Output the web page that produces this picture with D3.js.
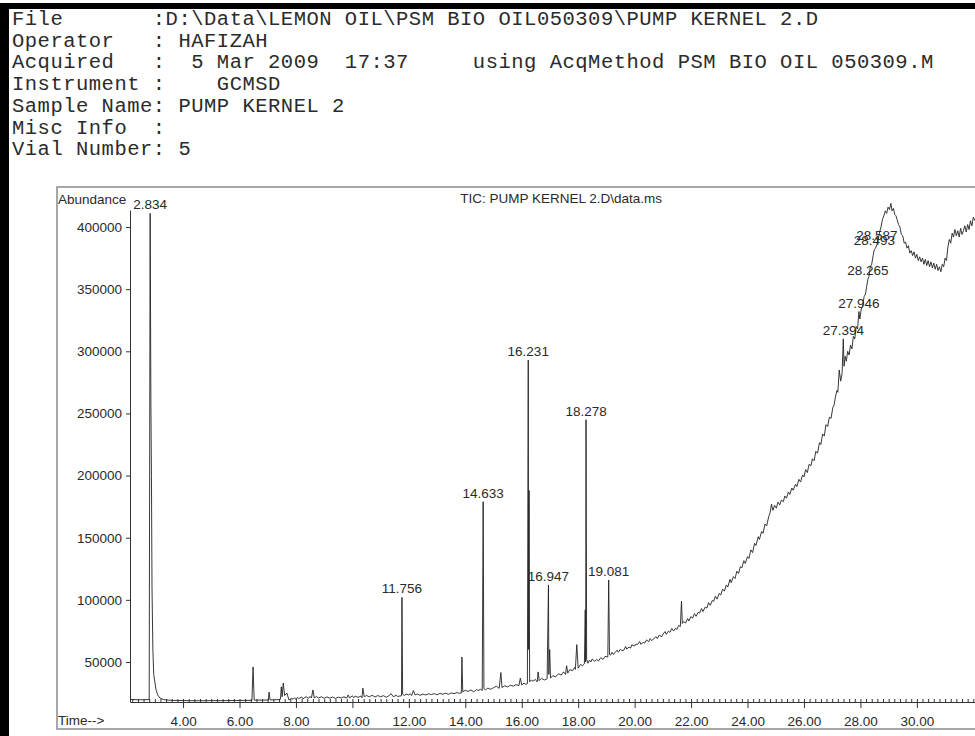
<!DOCTYPE html>
<html>
<head>
<meta charset="utf-8">
<script src="https://cdn.jsdelivr.net/npm/d3@7"></script>
<style>
  html, body { margin: 0; padding: 0; background: #fff; }
  svg { display: block; }
  .hdr { font-family: "Liberation Mono", "Courier New", monospace; font-size: 20.5px; letter-spacing: 0.5px; fill: #2b2b2b; white-space: pre; }
  .lbl { font-family: "Liberation Sans", Arial, sans-serif; font-size: 13.5px; fill: #2a2a2a; }
  .axis text { font-family: "Liberation Sans", Arial, sans-serif; font-size: 13.5px; fill: #2a2a2a; }
  .axis path, .axis line { stroke: #333; }
</style>
</head>
<body>
<svg id="chart"></svg>
<script>
// header block of the printout
const headerLines = [
  "File       :D:\\Data\\LEMON OIL\\PSM BIO OIL050309\\PUMP KERNEL 2.D",
  "Operator   : HAFIZAH",
  "Acquired   :  5 Mar 2009  17:37     using AcqMethod PSM BIO OIL 050309.M",
  "Instrument :    GCMSD",
  "Sample Name: PUMP KERNEL 2",
  "Misc Info  :",
  "Vial Number: 5"
];

const title = "TIC: PUMP KERNEL 2.D\\data.ms";

// ticks
const yTicks = [50000, 100000, 150000, 200000, 250000, 300000, 350000, 400000];
const xTicks = [4, 6, 8, 10, 12, 14, 16, 18, 20, 22, 24, 26, 28, 30];

// labelled peaks: retention time and apex abundance
const peakTimes = [2.834, 11.756, 14.633, 16.231, 16.947, 18.278, 19.081, 27.394, 27.946, 28.265, 28.493, 28.587];
const peakTops  = [411000, 102000, 179000, 293000, 112000, 245000, 116000, 310000, 332000, 358000, 382000, 386000];

// total ion current trace: [time (min), abundance]
const tic = [
  [2.12, 19800], [2.50, 19600], [2.80, 19700], [2.834, 411000], [2.86, 260000], [2.88, 200000],
  [2.90, 110000], [2.93, 60000], [2.96, 40000], [3.00, 34000], [3.04, 28000], [3.10, 23500],
  [3.18, 21000], [3.30, 19800], [3.50, 19200], [3.80, 19000], [4.20, 18900], [4.60, 18800],
  [5.00, 18900], [5.40, 18900], [5.80, 19000], [6.20, 19100], [6.44, 19100], [6.48, 46000],
  [6.52, 19300], [6.80, 19300], [7.02, 19400], [7.05, 25800], [7.08, 19500], [7.30, 19600],
  [7.45, 20000], [7.48, 30000], [7.51, 22000], [7.55, 33000], [7.60, 23000], [7.68, 25000],
  [7.75, 19500], [7.85, 20800], [7.90, 20000], [7.95, 21200], [8.00, 19800], [8.05, 21500],
  [8.10, 20600], [8.20, 21800], [8.25, 20300], [8.35, 22000], [8.45, 20800], [8.50, 22300],
  [8.55, 21000], [8.60, 27500], [8.65, 21000], [8.72, 22200], [8.80, 21000], [8.90, 22000],
  [9.00, 20800], [9.10, 21900], [9.20, 20900], [9.30, 21800], [9.40, 20700], [9.50, 21700],
  [9.60, 21000], [9.70, 22000], [9.80, 21000], [9.85, 23500], [9.90, 21000], [10.00, 22800],
  [10.05, 21200], [10.10, 22600], [10.20, 21500], [10.30, 22600], [10.34, 21200], [10.37, 29000],
  [10.42, 22000], [10.50, 23000], [10.60, 22000], [10.70, 23200], [10.80, 21800], [10.90, 23000],
  [11.00, 22000], [11.10, 22900], [11.20, 21600], [11.30, 23000], [11.37, 24500], [11.45, 22000],
  [11.55, 23200], [11.60, 22300], [11.74, 22800], [11.756, 102000], [11.78, 24000], [11.85, 23000],
  [11.90, 24300], [12.00, 23400], [12.05, 24500], [12.10, 23000], [12.16, 27000], [12.22, 23500],
  [12.30, 24200], [12.40, 23200], [12.50, 24100], [12.60, 23500], [12.70, 24400], [12.80, 23800],
  [12.90, 24600], [13.00, 23600], [13.10, 24700], [13.20, 24000], [13.30, 24900], [13.40, 24000],
  [13.50, 25100], [13.60, 24500], [13.70, 25400], [13.80, 24800], [13.86, 25000], [13.88, 54000],
  [13.91, 26000], [14.00, 27200], [14.10, 26300], [14.20, 27500], [14.30, 26000], [14.40, 27800],
  [14.45, 27000], [14.55, 28200], [14.60, 27000], [14.633, 179000], [14.66, 28500], [14.72, 27600],
  [14.80, 29000], [14.90, 28000], [15.00, 29300], [15.10, 30500], [15.20, 28800], [15.26, 41500],
  [15.30, 29500], [15.40, 30800], [15.50, 30000], [15.60, 31300], [15.70, 30500], [15.80, 31800],
  [15.90, 31000], [15.95, 37000], [16.00, 31500], [16.08, 33000], [16.15, 32000], [16.20, 32500],
  [16.231, 293000], [16.245, 60000], [16.26, 188000], [16.28, 34000], [16.34, 35500], [16.40, 34500],
  [16.48, 36000], [16.55, 34000], [16.58, 42000], [16.62, 35000], [16.70, 36800], [16.80, 35500],
  [16.90, 36500], [16.947, 112000], [16.96, 40000], [16.99, 60000], [17.02, 37000], [17.10, 39000],
  [17.20, 38000], [17.30, 40500], [17.40, 39500], [17.48, 42000], [17.55, 40000], [17.59, 47000],
  [17.63, 41000], [17.70, 43800], [17.80, 43000], [17.87, 45500], [17.90, 44000], [17.95, 64000],
  [18.00, 45000], [18.08, 48000], [18.15, 47000], [18.22, 48500], [18.25, 92000], [18.265, 50000],
  [18.278, 245000], [18.30, 52000], [18.35, 49000], [18.40, 51500], [18.45, 50000], [18.50, 52500],
  [18.58, 50500], [18.66, 52000], [18.72, 50800], [18.80, 53500], [18.88, 52000], [18.95, 54500],
  [19.05, 54000], [19.081, 116000], [19.11, 56000], [19.15, 55500], [19.20, 57800], [19.25, 56000],
  [19.30, 57500], [19.38, 59500], [19.42, 57800], [19.50, 60300], [19.55, 59000], [19.62, 59600],
  [19.68, 62500], [19.72, 60400], [19.80, 62000], [19.86, 61200], [19.90, 63800], [20.00, 62800],
  [20.05, 64500], [20.10, 63900], [20.18, 66500], [20.22, 64200], [20.30, 65800], [20.36, 65200],
  [20.42, 67800], [20.50, 66300], [20.55, 68800], [20.60, 67200], [20.68, 68600], [20.75, 70400],
  [20.80, 68900], [20.88, 71800], [20.95, 70100], [21.00, 72300], [21.08, 74500], [21.12, 72200],
  [21.20, 74900], [21.25, 73800], [21.32, 77000], [21.38, 74900], [21.45, 77200], [21.50, 76200],
  [21.56, 79400], [21.62, 78600], [21.66, 99000], [21.69, 81000], [21.74, 82600], [21.80, 81200],
  [21.88, 85000], [21.92, 83000], [22.00, 86500], [22.05, 85200], [22.12, 88900], [22.18, 86800],
  [22.25, 90000], [22.30, 89300], [22.37, 93000], [22.42, 90600], [22.50, 94200], [22.56, 93400],
  [22.62, 97800], [22.68, 95600], [22.75, 99500], [22.80, 98700], [22.86, 103000], [22.92, 100600],
  [23.00, 105200], [23.05, 103800], [23.12, 108600], [23.18, 107000], [23.25, 112000], [23.30, 110300],
  [23.38, 116500], [23.42, 113800], [23.50, 118700], [23.56, 117200], [23.62, 123000], [23.68, 121200],
  [23.75, 126800], [23.80, 125800], [23.87, 131500], [23.92, 129300], [24.00, 134800], [24.05, 133300],
  [24.12, 140200], [24.18, 138000], [24.25, 145500], [24.30, 143800], [24.38, 150800], [24.42, 148600],
  [24.50, 155000], [24.55, 153600], [24.62, 161000], [24.68, 159500], [24.75, 167000], [24.80, 170000],
  [24.85, 177000], [24.90, 172000], [24.96, 176000], [25.02, 173800], [25.08, 178600], [25.14, 176400],
  [25.20, 180200], [25.27, 179000], [25.32, 183600], [25.38, 181800], [25.45, 186800], [25.50, 184800],
  [25.57, 190000], [25.62, 188200], [25.70, 193000], [25.75, 191200], [25.82, 197000], [25.88, 194800],
  [25.95, 200500], [26.00, 199000], [26.06, 204800], [26.12, 202400], [26.18, 209000], [26.25, 208000],
  [26.30, 213500], [26.36, 212000], [26.42, 219500], [26.48, 218000], [26.55, 226500], [26.60, 225000],
  [26.66, 233500], [26.72, 231800], [26.78, 241000], [26.84, 239500], [26.90, 247000], [26.96, 246000],
  [27.02, 254500], [27.07, 257000], [27.12, 264000], [27.17, 268500], [27.20, 267000], [27.25, 285000],
  [27.30, 276000], [27.35, 282000], [27.394, 310000], [27.42, 288000], [27.46, 296000], [27.50, 292000],
  [27.55, 300000], [27.60, 297000], [27.65, 305000], [27.70, 302000], [27.75, 312000], [27.80, 310000],
  [27.85, 320000], [27.90, 318000], [27.946, 332000], [27.98, 326000], [28.03, 334000], [28.08, 336000],
  [28.13, 344000], [28.18, 346000], [28.22, 352000], [28.265, 358000], [28.30, 360000], [28.35, 368000],
  [28.40, 370000], [28.45, 377000], [28.493, 382000], [28.54, 383000], [28.587, 386000], [28.63, 390000],
  [28.68, 396000], [28.73, 400000], [28.78, 406000], [28.83, 409000], [28.88, 413000], [28.93, 411000],
  [28.98, 416000], [29.03, 414000], [29.08, 419000], [29.12, 413000], [29.17, 415000], [29.22, 410000],
  [29.26, 409000], [29.30, 406000], [29.35, 402000], [29.40, 400000], [29.45, 394000], [29.50, 393000],
  [29.55, 387000], [29.60, 388000], [29.65, 383000], [29.70, 385000], [29.75, 379000], [29.80, 381000],
  [29.85, 377000], [29.90, 380000], [29.95, 375000], [30.00, 378000], [30.05, 373000], [30.10, 376000],
  [30.15, 372000], [30.20, 375000], [30.25, 370000], [30.30, 374000], [30.35, 369000], [30.40, 373000],
  [30.45, 368000], [30.50, 372000], [30.55, 367000], [30.60, 371000], [30.65, 366000], [30.70, 370000],
  [30.75, 365000], [30.80, 368000], [30.85, 364000], [30.90, 370000], [30.95, 368000], [31.00, 375000],
  [31.05, 373000], [31.10, 384000], [31.15, 390000], [31.20, 387000], [31.25, 395000], [31.30, 392000],
  [31.35, 398000], [31.40, 393000], [31.45, 397000], [31.50, 392000], [31.55, 399000], [31.60, 394000],
  [31.65, 397000], [31.70, 401000], [31.75, 396000], [31.80, 402000], [31.85, 398000], [31.90, 405000],
  [31.95, 401000], [32.00, 408000], [32.06, 405000]
];

const width = 975, height = 736;

const svg = d3.select("#chart")
  .attr("width", width)
  .attr("height", height)
  .attr("viewBox", [0, 0, width, height]);

// scan borders
svg.append("rect").attr("x", 0).attr("y", 3).attr("width", width).attr("height", 6).attr("fill", "#000");
svg.append("rect").attr("x", 0).attr("y", 3).attr("width", 9).attr("height", height).attr("fill", "#000");

// header
svg.append("g")
  .selectAll("text")
  .data(headerLines)
  .join("text")
  .attr("class", "hdr")
  .attr("x", 12)
  .attr("y", (d, i) => 25 + i * 21.7)
  .text(d => d);

// chart frame
const frame = { left: 57, top: 187, bottom: 729 };
svg.append("path")
  .attr("d", `M${width},${frame.top}H${frame.left}V${frame.bottom}H${width}`)
  .attr("fill", "none")
  .attr("stroke", "#8a8a8a")
  .attr("stroke-width", 1.5);

const x = d3.scaleLinear().domain([2.12, 32.06]).range([130, 975]);
const y = d3.scaleLinear().domain([17800, 413700]).range([702, 210]);

// y axis
svg.append("g")
  .attr("class", "axis")
  .attr("transform", `translate(${x(2.12)},0)`)
  .call(d3.axisLeft(y).tickValues(yTicks).tickSize(4).tickSizeOuter(0).tickPadding(4).tickFormat(d3.format("d")));

// x axis: labelled ticks below, minor ticks above
svg.append("g")
  .attr("class", "axis")
  .attr("transform", `translate(0,${y(17800)})`)
  .call(d3.axisBottom(x).tickValues(xTicks).tickSize(6).tickSizeOuter(0).tickPadding(8).tickFormat(d3.format(".2f")));

svg.append("g")
  .attr("class", "axis")
  .attr("transform", `translate(0,${y(17800)})`)
  .call(d3.axisTop(x).tickValues(d3.range(2.2, 32.06, 0.2)).tickSize(3).tickFormat(""))
  .call(g => g.select(".domain").remove());

svg.append("text").attr("class", "lbl").attr("x", 58).attr("y", 204).text("Abundance");
svg.append("text").attr("class", "lbl").attr("x", 58).attr("y", 725).text("Time-->");
svg.append("text").attr("class", "lbl").attr("x", 662).attr("y", 203).attr("text-anchor", "end").text(title);

// trace
const line = d3.line()
  .x(d => x(d[0]))
  .y(d => y(d[1]));

svg.append("path")
  .datum(tic)
  .attr("fill", "none")
  .attr("stroke", "#222")
  .attr("stroke-width", 0.9)
  .attr("stroke-linejoin", "round")
  .attr("d", line);

// peak labels
svg.append("g")
  .selectAll("text")
  .data(peakTimes)
  .join("text")
  .attr("class", "lbl")
  .attr("text-anchor", "middle")
  .attr("x", d => x(d))
  .attr("y", (d, i) => y(peakTops[i]) - 4)
  .text(d => d.toFixed(3));
</script>
</body>
</html>
